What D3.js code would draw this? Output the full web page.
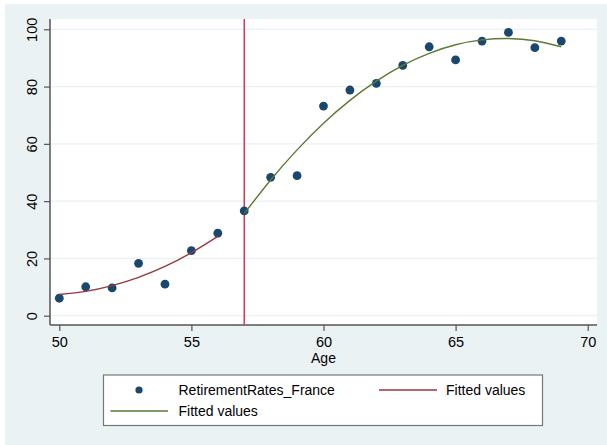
<!DOCTYPE html>
<html>
<head>
<meta charset="utf-8">
<script src="https://cdn.jsdelivr.net/npm/d3@7"></script>
<style>
  body { margin: 0; background: #fff; }
  svg { display: block; font-family: "Liberation Sans", Arial, sans-serif; }
</style>
</head>
<body>
<div id="chart"></div>
<script>
const width = 607;
const height = 445;

// data
const ages = [50, 51, 52, 53, 54, 55, 56, 57, 58, 59, 60, 61, 62, 63, 64, 65, 66, 67, 68, 69];
const retirementRates = [6.1, 10.1, 9.7, 18.3, 11.0, 22.7, 28.8, 36.6, 48.3, 48.9,
    73.2, 78.8, 81.1, 87.4, 93.9, 89.3, 95.9, 98.9, 93.6, 95.9];
const fitBeforeAges = [50, 51, 52, 53, 54, 55, 56];
const fitBeforeValues = [7.4, 8.5, 10.5, 13.4, 17.2, 22.0, 27.7];
const fitAfterAges = [57, 58, 59, 60, 61, 62, 63, 64, 65, 66, 67, 68, 69];
const fitAfterValues = [35.7, 47.4, 57.9, 67.2, 75.2, 81.9, 87.4, 91.6, 94.6, 96.3, 96.8, 96.0, 93.9];
const cutoffAge = 57;
const xTicks = [50, 55, 60, 65, 70];
const yTicks = [0, 20, 40, 60, 80, 100];
const legendLabels = ['RetirementRates_France', 'Fitted values', 'Fitted values'];

const colors = {
    bg: '#eaf2f3',
    grid: '#eaf2f3',
    point: '#1a476f',
    fitBefore: '#94393f',
    fitAfter: '#5a7a35',
    cutoff: '#d9365a',
    axis: '#555555'
};

const plot = { left: 50, right: 597, top: 19, bottom: 325 };

const svg = d3.select('#chart')
    .append('svg')
    .attr('width', width)
    .attr('height', height);

// outer graph region
svg.append('rect')
    .attr('x', 5).attr('y', 4)
    .attr('width', width - 5).attr('height', height - 4)
    .attr('fill', colors.bg);

svg.append('rect')
    .attr('x', plot.left).attr('y', plot.top)
    .attr('width', plot.right - plot.left).attr('height', plot.bottom - plot.top)
    .attr('fill', '#fff');

const x = d3.scaleLinear().domain([50, 70]).range([59.3, 587.7]);
const y = d3.scaleLinear().domain([0, 100]).range([315.7, 29.3]);

// GRID
svg.append('g')
    .selectAll('line')
    .data(yTicks)
    .join('line')
    .attr('x1', plot.left).attr('x2', plot.right)
    .attr('y1', d => y(d)).attr('y2', d => y(d))
    .attr('stroke', colors.grid)
    .attr('stroke-width', 1.3);

// AXES
const xAxis = svg.append('g')
    .attr('transform', `translate(0,${plot.bottom})`)
    .call(d3.axisBottom(x).tickValues(xTicks).tickSize(6).tickSizeOuter(0).tickPadding(3));
xAxis.select('.domain').attr('d', `M${plot.left},0H${plot.right}`);

const yAxis = svg.append('g')
    .attr('transform', `translate(${plot.left},0)`)
    .call(d3.axisLeft(y).tickValues(yTicks).tickSize(6).tickSizeOuter(0));
yAxis.select('.domain').attr('d', `M0,${plot.top}V${plot.bottom}`);

[xAxis, yAxis].forEach(ax => {
    ax.select('.domain').attr('stroke', colors.axis).attr('stroke-width', 1.5);
    ax.selectAll('.tick line').attr('stroke', colors.axis).attr('stroke-width', 1.2);
    ax.selectAll('.tick text')
        .attr('fill', '#000')
        .style('font-family', '"Liberation Sans", Arial, sans-serif')
        .style('font-size', '14.5px');
});

// rotated y tick labels
yAxis.selectAll('.tick text')
    .attr('x', 0).attr('dy', null)
    .attr('text-anchor', 'middle')
    .attr('dominant-baseline', 'central')
    .attr('transform', 'translate(-18,0) rotate(-90)');

xAxis.selectAll('.tick text').attr('dy', '0.9em');

svg.append('text')
    .attr('x', (plot.left + plot.right) / 2)
    .attr('y', 363)
    .attr('text-anchor', 'middle')
    .attr('font-size', '14px')
    .text('Age');

// CUTOFF LINE
svg.append('line')
    .attr('x1', x(cutoffAge)).attr('x2', x(cutoffAge))
    .attr('y1', plot.top).attr('y2', plot.bottom)
    .attr('stroke', colors.cutoff)
    .attr('stroke-width', 1.5);

// POINTS
svg.append('g')
    .selectAll('circle')
    .data(ages.map((a, i) => ({ age: a, value: retirementRates[i] })))
    .join('circle')
    .attr('cx', d => x(d.age))
    .attr('cy', d => y(d.value))
    .attr('r', 4.4)
    .attr('fill', colors.point);

// FITTED CURVES
const line = d3.line()
    .x(d => x(d[0]))
    .y(d => y(d[1]))
    .curve(d3.curveNatural);

svg.append('path')
    .datum(d3.zip(fitBeforeAges, fitBeforeValues))
    .attr('d', line)
    .attr('fill', 'none')
    .attr('stroke', colors.fitBefore)
    .attr('stroke-width', 1.4);

svg.append('path')
    .datum(d3.zip(fitAfterAges, fitAfterValues))
    .attr('d', line)
    .attr('fill', 'none')
    .attr('stroke', colors.fitAfter)
    .attr('stroke-width', 1.4);

// LEGEND
const legend = svg.append('g');
legend.append('rect')
    .attr('x', 103.5).attr('y', 375)
    .attr('width', 439).attr('height', 50.5)
    .attr('fill', '#fff')
    .attr('stroke', '#777')
    .attr('stroke-width', 1.2);

legend.append('circle')
    .attr('cx', 139).attr('cy', 390)
    .attr('r', 3.6)
    .attr('fill', colors.point);
legend.append('line')
    .attr('x1', 379).attr('x2', 437)
    .attr('y1', 390).attr('y2', 390)
    .attr('stroke', colors.fitBefore).attr('stroke-width', 1.6);
legend.append('line')
    .attr('x1', 110.5).attr('x2', 168)
    .attr('y1', 411).attr('y2', 411)
    .attr('stroke', colors.fitAfter).attr('stroke-width', 1.6);

const legendPos = [[178.5, 390], [446, 390], [178.5, 411]];
legend.selectAll('text')
    .data(legendLabels)
    .join('text')
    .attr('x', (d, i) => legendPos[i][0])
    .attr('y', (d, i) => legendPos[i][1])
    .attr('dominant-baseline', 'central')
    .attr('font-size', '14px')
    .text(d => d);
</script>
</body>
</html>
